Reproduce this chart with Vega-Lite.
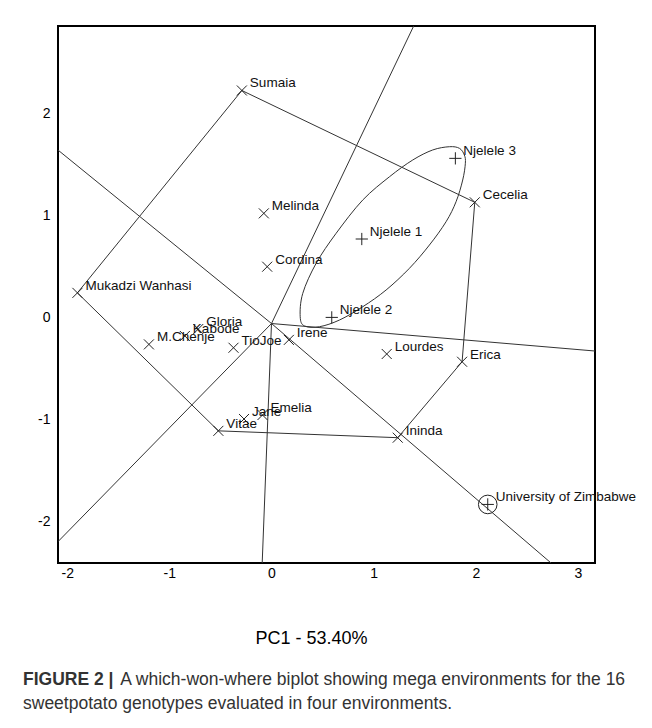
{
  "$schema": "https://vega.github.io/schema/vega-lite/v6.json",
  "width": 537,
  "height": 537,
  "autosize": {"type": "none"},
  "padding": {"left": 58, "top": 26, "right": 57, "bottom": 165},
  "background": "white",
  "config": {
    "view": {"stroke": "black", "strokeWidth": 2},
    "font": "Liberation Sans"
  },
  "title": {
    "text": "FIGURE 2 |",
    "subtitle": [
      "\u200b\u00a0\u00a0\u00a0\u00a0\u00a0\u00a0\u00a0\u00a0\u00a0\u00a0\u00a0\u00a0\u00a0\u00a0\u00a0\u00a0\u00a0\u00a0\u00a0\u00a0A which-won-where biplot showing mega environments for the 16",
      "sweetpotato genotypes evaluated in four environments."
    ],
    "orient": "bottom",
    "anchor": "start",
    "frame": "group",
    "dx": -35,
    "offset": 24,
    "font": "Liberation Sans",
    "fontSize": 17.5,
    "fontWeight": "bold",
    "color": "#333333",
    "subtitleFont": "Liberation Sans",
    "subtitleFontSize": 17.5,
    "subtitleFontWeight": "normal",
    "subtitleColor": "#333333",
    "subtitlePadding": -17.5,
    "subtitleLineHeight": 23.5
  },
  "datasets": {
    "points": [
      {"name": "Sumaia", "pc1": -0.29, "pc2": 2.28, "type": "genotype"},
      {"name": "Melinda", "pc1": -0.075, "pc2": 1.078, "type": "genotype"},
      {"name": "Cordina", "pc1": -0.042, "pc2": 0.556, "type": "genotype"},
      {"name": "Mukadzi Wanhasi", "pc1": -1.9, "pc2": 0.3, "type": "genotype"},
      {"name": "Cecelia", "pc1": 1.99, "pc2": 1.186, "type": "genotype"},
      {"name": "Gloria", "pc1": -0.717, "pc2": -0.054, "type": "genotype"},
      {"name": "Kabode", "pc1": -0.848, "pc2": -0.122, "type": "genotype"},
      {"name": "M.Chenje", "pc1": -1.2, "pc2": -0.204, "type": "genotype"},
      {"name": "TioJoe", "pc1": -0.372, "pc2": -0.237, "type": "genotype"},
      {"name": "Irene", "pc1": 0.17, "pc2": -0.16, "type": "genotype"},
      {"name": "Lourdes", "pc1": 1.128, "pc2": -0.298, "type": "genotype"},
      {"name": "Erica", "pc1": 1.866, "pc2": -0.374, "type": "genotype"},
      {"name": "Jane", "pc1": -0.269, "pc2": -0.934, "type": "genotype"},
      {"name": "Emelia", "pc1": -0.088, "pc2": -0.895, "type": "genotype"},
      {"name": "Vitae", "pc1": -0.52, "pc2": -1.05, "type": "genotype"},
      {"name": "Ininda", "pc1": 1.236, "pc2": -1.117, "type": "genotype"},
      {"name": "Njelele 1", "pc1": 0.884, "pc2": 0.827, "type": "environment"},
      {"name": "Njelele 2", "pc1": 0.59, "pc2": 0.06, "type": "environment"},
      {"name": "Njelele 3", "pc1": 1.8, "pc2": 1.616, "type": "environment"},
      {"name": "University of Zimbabwe", "pc1": 2.117, "pc2": -1.77, "type": "environment"}
    ],
    "polygon": [
      {"order": 1, "vertex": "Sumaia", "pc1": -0.29, "pc2": 2.28},
      {"order": 2, "vertex": "Cecelia", "pc1": 1.99, "pc2": 1.186},
      {"order": 3, "vertex": "Erica", "pc1": 1.866, "pc2": -0.374},
      {"order": 4, "vertex": "Ininda", "pc1": 1.236, "pc2": -1.117},
      {"order": 5, "vertex": "Vitae", "pc1": -0.52, "pc2": -1.05},
      {"order": 6, "vertex": "Mukadzi Wanhasi", "pc1": -1.9, "pc2": 0.3},
      {"order": 7, "vertex": "Sumaia", "pc1": -0.29, "pc2": 2.28}
    ],
    "rays": [
      {"ray": "upper-left", "pc1": 0, "pc2": 0},
      {"ray": "upper-left", "pc1": -2.091, "pc2": 1.698},
      {"ray": "lower-right", "pc1": 0, "pc2": 0},
      {"ray": "lower-right", "pc1": 2.737, "pc2": -2.343},
      {"ray": "upper-right", "pc1": 0, "pc2": 0},
      {"ray": "upper-right", "pc1": 1.392, "pc2": 2.911},
      {"ray": "lower-left", "pc1": 0, "pc2": 0},
      {"ray": "lower-left", "pc1": -2.091, "pc2": -2.135},
      {"ray": "right", "pc1": 0, "pc2": 0},
      {"ray": "right", "pc1": 3.167, "pc2": -0.269},
      {"ray": "down", "pc1": 0, "pc2": 0},
      {"ray": "down", "pc1": -0.091, "pc2": -2.343}
    ],
    "ellipse": [
      {"order": 1, "pc1": 1.742, "pc2": 1.73},
      {"order": 2, "pc1": 1.84, "pc2": 1.714},
      {"order": 3, "pc1": 1.888, "pc2": 1.649},
      {"order": 4, "pc1": 1.898, "pc2": 1.568},
      {"order": 5, "pc1": 1.872, "pc2": 1.404},
      {"order": 6, "pc1": 1.807, "pc2": 1.192},
      {"order": 7, "pc1": 1.709, "pc2": 0.996},
      {"order": 8, "pc1": 1.546, "pc2": 0.768},
      {"order": 9, "pc1": 1.35, "pc2": 0.54},
      {"order": 10, "pc1": 1.122, "pc2": 0.328},
      {"order": 11, "pc1": 0.893, "pc2": 0.164},
      {"order": 12, "pc1": 0.665, "pc2": 0.034},
      {"order": 13, "pc1": 0.47, "pc2": -0.031},
      {"order": 14, "pc1": 0.323, "pc2": -0.024},
      {"order": 15, "pc1": 0.281, "pc2": 0.067},
      {"order": 16, "pc1": 0.306, "pc2": 0.295},
      {"order": 17, "pc1": 0.437, "pc2": 0.589},
      {"order": 18, "pc1": 0.633, "pc2": 0.883},
      {"order": 19, "pc1": 0.893, "pc2": 1.208},
      {"order": 20, "pc1": 1.155, "pc2": 1.436},
      {"order": 21, "pc1": 1.383, "pc2": 1.6},
      {"order": 22, "pc1": 1.578, "pc2": 1.698}
    ]
  },
  "layer": [
    {
      "mark": {"type": "rule", "color": "#777777", "strokeDash": [1, 1], "strokeWidth": 1},
      "encoding": {
        "x": {"datum": 0, "type": "quantitative",
          "scale": {"domain": [-2.09, 3.167], "nice": false, "zero": false},
          "axis": {
            "values": [-2, -1, 0, 1, 2, 3], "ticks": false, "domain": false, "grid": false,
            "labelExpr": "'' + datum.value",
            "labelFontSize": 14, "labelColor": "black", "labelPadding": 3, "labelFlush": false,
            "title": "PC1 - 53.40%", "titleFontSize": 18, "titleFontWeight": "normal", "titleColor": "black",
            "titleX": 253, "titleY": 80, "titleBaseline": "alphabetic", "titleAlign": "center"
          }
        }
      }
    },
    {
      "mark": {"type": "rule", "color": "#777777", "strokeDash": [1, 1], "strokeWidth": 1},
      "encoding": {
        "y": {"datum": 0, "type": "quantitative",
          "scale": {"domain": [-2.343, 2.911], "nice": false, "zero": false},
          "axis": {
            "values": [-2, -1, 0, 1, 2], "ticks": false, "domain": false, "grid": false,
            "labelExpr": "'' + datum.value",
            "labelFontSize": 14, "labelColor": "black", "labelPadding": 8, "labelFlush": false,
            "labelBaseline": "alphabetic", "labelOffset": -2, "title": null
          }
        }
      }
    },
    {
      "data": {"name": "rays"},
      "mark": {"type": "line", "color": "#333333", "strokeWidth": 1, "clip": true},
      "encoding": {
        "x": {"field": "pc1", "type": "quantitative"},
        "y": {"field": "pc2", "type": "quantitative"},
        "detail": {"field": "ray"}
      }
    },
    {
      "data": {"name": "polygon"},
      "mark": {"type": "line", "color": "#333333", "strokeWidth": 1},
      "encoding": {
        "x": {"field": "pc1", "type": "quantitative"},
        "y": {"field": "pc2", "type": "quantitative"},
        "order": {"field": "order", "type": "quantitative"}
      }
    },
    {
      "data": {"name": "ellipse"},
      "mark": {"type": "line", "color": "#333333", "strokeWidth": 1, "interpolate": "cardinal-closed"},
      "encoding": {
        "x": {"field": "pc1", "type": "quantitative"},
        "y": {"field": "pc2", "type": "quantitative"},
        "order": {"field": "order", "type": "quantitative"}
      }
    },
    {
      "data": {"name": "points"},
      "mark": {"type": "point", "filled": false, "color": "#222222", "strokeWidth": 1, "opacity": 1},
      "encoding": {
        "x": {"field": "pc1", "type": "quantitative"},
        "y": {"field": "pc2", "type": "quantitative"},
        "shape": {"field": "type", "type": "nominal",
          "scale": {"domain": ["genotype", "environment"], "range": ["M-1,-1L1,1M-1,1L1,-1", "M-1,0L1,0M0,-1L0,1"]},
          "legend": null},
        "size": {"field": "type", "type": "nominal",
          "scale": {"domain": ["genotype", "environment"], "range": [100, 150]},
          "legend": null}
      }
    },
    {
      "data": {"name": "points"},
      "transform": [{"filter": "datum.name === 'University of Zimbabwe'"}],
      "mark": {"type": "point", "shape": "circle", "filled": false, "color": "#222222", "strokeWidth": 1, "size": 346, "opacity": 1},
      "encoding": {
        "x": {"field": "pc1", "type": "quantitative"},
        "y": {"field": "pc2", "type": "quantitative"}
      }
    },
    {
      "data": {"name": "points"},
      "mark": {"type": "text", "align": "left", "baseline": "alphabetic", "dx": 8, "dy": -3, "fontSize": 13.5, "color": "#111111", "font": "Liberation Sans"},
      "encoding": {
        "x": {"field": "pc1", "type": "quantitative"},
        "y": {"field": "pc2", "type": "quantitative"},
        "text": {"field": "name"}
      }
    }
  ]
}
